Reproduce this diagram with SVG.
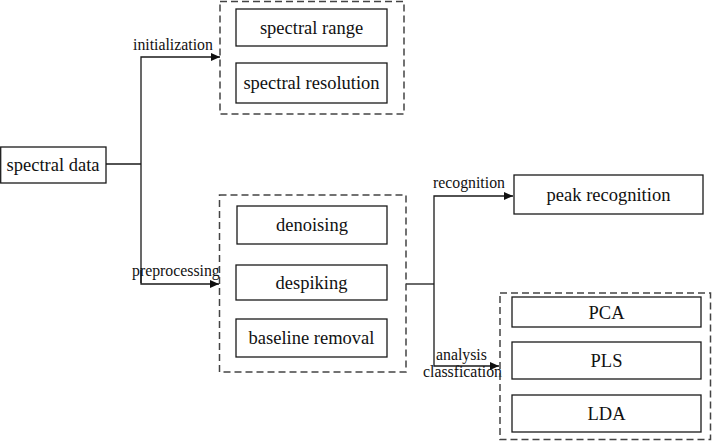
<svg xmlns="http://www.w3.org/2000/svg" width="712" height="441" viewBox="0 0 712 441">
<style>
.box{fill:#fff;stroke:#1a1a1a;stroke-width:1.3}
.grp{fill:none;stroke:#444;stroke-width:1.5;stroke-dasharray:7 4}
.t{font-family:"Liberation Serif","Times New Roman",serif;font-size:18.5px;fill:#111;text-anchor:middle}
.l{font-family:"Liberation Serif","Times New Roman",serif;font-size:15.8px;fill:#111}
.c{fill:none;stroke:#1a1a1a;stroke-width:1.3}
</style>
<defs>
<marker id="ah" markerWidth="9" markerHeight="8" refX="9" refY="4" orient="auto" markerUnits="userSpaceOnUse">
<path d="M0,0 L9,4 L0,8 Z" fill="#111"/>
</marker>
</defs>
<rect width="712" height="441" fill="#fff"/>
<g id="connectors">
<path class="c" d="M106,164 H141"/>
<path class="c" d="M141,283 V57 H220" marker-end="url(#ah)"/>
<path class="c" d="M141,270 V284 H219" marker-end="url(#ah)"/>
<path class="c" d="M406,284 H434"/>
<path class="c" d="M434,284 V196 H513" marker-end="url(#ah)"/>
<path class="c" d="M434,284 V366 H499" marker-end="url(#ah)"/>
<text class="l" x="133" y="50">initialization</text>
<text class="l" x="132" y="276">preprocessing</text>
<text class="l" x="433" y="188">recognition</text>
<text class="l" x="436" y="360">analysis</text>
<text class="l" x="423" y="377">classfication</text>
</g>
<g id="spectral-data">
<rect class="box" x="0.7" y="147" width="105.3" height="36"/>
<text class="t" x="53" y="171">spectral data</text>
</g>
<g id="initialization-group">
<rect class="grp" x="220" y="1.5" width="184" height="112.5"/>
</g>
<g id="spectral-range">
<rect class="box" x="236" y="9" width="151" height="37"/>
<text class="t" x="311.5" y="33.5">spectral range</text>
</g>
<g id="spectral-resolution">
<rect class="box" x="236" y="63" width="151" height="40"/>
<text class="t" x="311.5" y="89">spectral resolution</text>
</g>
<g id="preprocessing-group">
<rect class="grp" x="219.5" y="195" width="186.5" height="177"/>
</g>
<g id="denoising">
<rect class="box" x="237" y="206" width="150" height="38"/>
<text class="t" x="312" y="231">denoising</text>
</g>
<g id="despiking">
<rect class="box" x="236" y="265" width="151" height="35"/>
<text class="t" x="311.5" y="288.5">despiking</text>
</g>
<g id="baseline-removal">
<rect class="box" x="236" y="319" width="151" height="38"/>
<text class="t" x="311.5" y="344">baseline removal</text>
</g>
<g id="peak-recognition">
<rect class="box" x="514" y="175" width="189" height="39"/>
<text class="t" x="608.5" y="200.5">peak recognition</text>
</g>
<g id="analysis-group">
<rect class="grp" x="500" y="293" width="210.5" height="146.5"/>
</g>
<g id="PCA">
<rect class="box" x="512" y="297" width="189" height="30"/>
<text class="t" x="606.5" y="318.5">PCA</text>
</g>
<g id="PLS">
<rect class="box" x="512" y="342" width="189" height="37"/>
<text class="t" x="606.5" y="367">PLS</text>
</g>
<g id="LDA">
<rect class="box" x="512" y="395" width="189" height="37"/>
<text class="t" x="606.5" y="420">LDA</text>
</g>
</svg>
